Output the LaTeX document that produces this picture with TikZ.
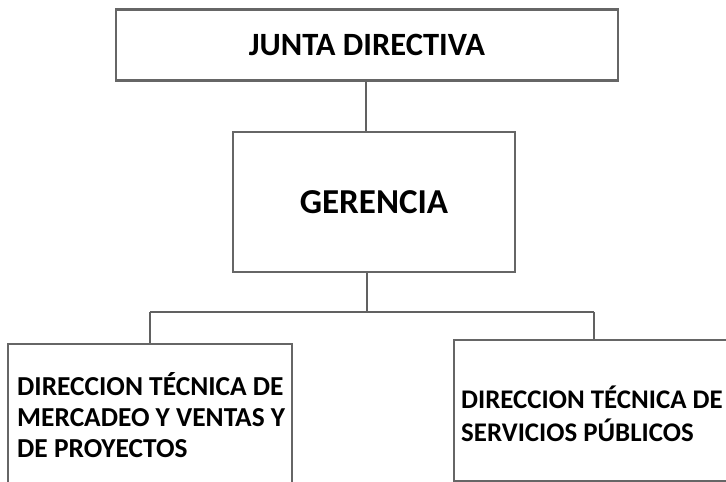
\documentclass[tikz,border=0pt]{standalone}
\usepackage{fontspec}
\setmainfont{Carlito}
\begin{document}
\begin{tikzpicture}[x=1pt,y=-1pt,
  orgbox/.style={draw=black!60, line width=2.6pt, rectangle, inner sep=0pt},
  boxtext/.style={anchor=west, align=left, inner sep=0pt},
  link/.style={draw=black!62, line width=1.6pt}]
\path[use as bounding box] (0,0) rectangle (726,482);
\clip (0,0) rectangle (726,482);
\node[orgbox, minimum width=502pt, minimum height=71pt, font=\bfseries\fontsize{32.5}{36}\selectfont] (junta) at (367,45) {JUNTA DIRECTIVA};
\node[orgbox, minimum width=282pt, minimum height=140pt, font=\bfseries\fontsize{35}{40}\selectfont] (ger) at (374,202) {GERENCIA};
\node[orgbox, minimum width=284pt, minimum height=146pt] (mer) at (150,417) {};
\node[orgbox, minimum width=290pt, minimum height=141pt] (ser) at (599,410.5) {};
\node[boxtext, font=\bfseries\fontsize{27.4}{31}\selectfont] (mertext) at (17,415)
  {DIRECCION TÉCNICA DE\\MERCADEO Y VENTAS Y\\DE PROYECTOS};
\node[boxtext, font=\bfseries\fontsize{26.9}{33}\selectfont] (sertext) at (461,413.5)
  {DIRECCION TÉCNICA DE\\SERVICIOS PÚBLICOS};
\coordinate (c1) at (366,0);
\coordinate (c2) at (367,312);
\coordinate (cl) at (150,312);
\coordinate (cr) at (594,312);
\draw[link] (junta.south -| c1) -- (ger.north -| c1);
\draw[link] (ger.south -| c2) -- (c2);
\draw[link] (cl) -- (cr);
\draw[link] (cl) -- (mer.north -| cl);
\draw[link] (cr) -- (ser.north -| cr);
\end{tikzpicture}
\end{document}
